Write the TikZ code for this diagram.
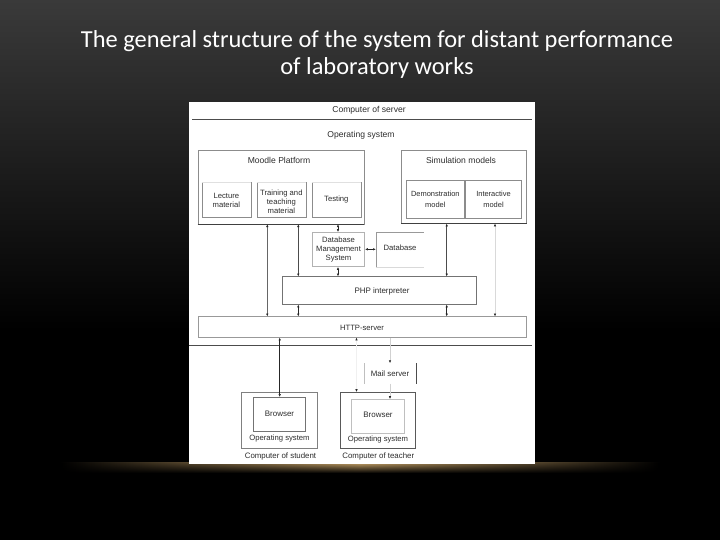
\documentclass[tikz,border=0pt]{standalone}
\usepackage{fontspec}
\setmainfont{Carlito}
\newfontfamily\arialf{Liberation Sans}
\usetikzlibrary{arrows.meta,fadings,fit}
\definecolor{bgtop}{RGB}{58,58,58}
\definecolor{goldband}{RGB}{205,168,108}
\definecolor{txt}{RGB}{45,45,45}
\tikzset{
  lbl/.style={font=\arialf\fontsize{7.7}{9}\selectfont, text=txt, align=center, inner sep=0pt},
  hdr/.style={font=\arialf\fontsize{8.6}{10}\selectfont, text=txt, inner sep=0pt},
  frame/.style={draw=#1, line width=0.6bp, inner sep=0pt},
  frame/.default={black!45},
  area/.style={inner sep=0pt},
  side/.style={draw=#1, line width=0.6bp},
  side/.default={black!45},
  tipd/.tip={Latex[length=2.8bp,width=2.4bp,color=black!85]},
  biarr/.style={line width=0.5bp, draw=#1, tipd-tipd},
  biarr/.default={black!85},
  onearr/.style={line width=0.5bp, draw=#1, -tipd},
  onearr/.default={black!85},
}
\begin{document}
\begin{tikzpicture}[x=1bp,y=-1bp]
\useasboundingbox (0,0) rectangle (720,540);
% background
\shade[top color=bgtop, bottom color=black] (0,0) rectangle (720,330);
\fill[black] (0,329.5) rectangle (720,540);
\shade[left color=black, right color=black, middle color=goldband, path fading=south] (60,462) rectangle (660,473);
% title
\node[font=\fontsize{24.5}{27}\selectfont, text=white, align=center, inner sep=0pt] (title) at (377,54.5)
  {The general structure of the system for distant performance\\of laboratory works};
% figure
\node[fill=white, inner sep=0pt, fit={(189,102.5) (535,464)}] (fig) {};
\node[hdr] (srvlbl) at (369,110.5) {Computer of server};
\coordinate (sl1) at (192,119); \coordinate (sl2) at (532,119);
\draw[black!70, line width=0.6bp] (sl1) -- (sl2);
\node[hdr] (oslbl) at (361,135) {Operating system};
% Moodle
\node[frame, fit={(198,150.7) (364,224)}] (moodle) {};
\draw[black!75, line width=0.6bp] (moodle.south west) -- (moodle.south east);
\node[hdr] at (279,160.7) {Moodle Platform};
\node[area, fit={(202,182.7) (250.7,217)}] (lect) {};
\node[area, fit={(257,182.7) (305.7,217)}] (train) {};
\node[area, fit={(312,182.7) (360.7,217)}] (test) {};
\foreach \b in {lect,train,test}{
  \draw[side] (\b.north west) -- (\b.south west) -- (\b.south east) -- (\b.north east);
  \draw[black!12, line width=0.5bp] (\b.north west) -- (\b.north east);
}
\node[lbl] at ([yshift=-0.5]lect.center) {Lecture\\material};
\node[lbl] at ([yshift=-1.5]train.center) {Training and\\teaching\\material};
\node[lbl] at (test.center) {Testing};
% Simulation
\node[frame, fit={(401.7,150.7) (526.7,223.3)}] (sim) {};
\draw[black!75, line width=0.6bp] (sim.south west) -- (sim.south east);
\node[hdr] at (461,160.7) {Simulation models};
\node[frame, fit={(406.7,180.3) (464,218.3)}] (demo) {};
\node[frame, fit={(465.3,180.3) (521.7,218.3)}] (inter) {};
\node[lbl, font=\arialf\fontsize{7.5}{11}\selectfont] at (demo.center) {Demonstration\\model};
\node[lbl, font=\arialf\fontsize{7.5}{11}\selectfont] at (inter.center) {Interactive\\model};
% DBMS, DB
\node[frame=black!30, fit={(312.3,232.3) (364.7,266.7)}] (dbms) {};
\node[lbl, font=\arialf\fontsize{7.7}{8.7}\selectfont] at (dbms.center) {Database\\Management\\System};
\node[area, fit={(376,232.3) (423.3,266.7)}] (db) {};
\draw[side=black!40] (db.north east) -- (db.north west) -- (db.south west);
\draw[side=black!15] (db.south west) -- (db.south east);
\node[lbl] at (400,247.3) {Database};
% PHP
\node[frame=black!55, fit={(282.3,276.7) (476.7,304.3)}] (php) {};
\node[lbl, font=\arialf\fontsize{8}{9}\selectfont] at (382,291) {PHP interpreter};
% HTTP
\node[frame=black!40, fit={(198,316.7) (526.7,337.3)}] (http) {};
\node[lbl] at (362,327.5) {HTTP-server};
\coordinate (hl1) at (189,345); \coordinate (hl2) at (532,345);
\draw[black!70, line width=0.6bp] (hl1) -- (hl2);
% Mail
\node[area, fit={(364.3,363.3) (415.7,383.3)}] (mail) {};
\draw[side=black!25] (mail.north west) -- (mail.south west);
\draw[side=black!70] (mail.north east) -- (mail.south east);
\node[lbl, font=\arialf\fontsize{7.9}{9}\selectfont] at (mail.center) {Mail server};
% client computers
\node[frame=black!50, fit={(241.7,392.3) (317.3,448.3)}] (stud) {};
\node[frame=black!55, fit={(253.3,397.3) (305.7,431)}] (sbrow) {};
\node[lbl, font=\arialf\fontsize{8}{9}\selectfont] at ([yshift=0.5]sbrow.center) {Browser};
\node[lbl] at (279.5,439) {Operating system};
\node[lbl, font=\arialf\fontsize{7.9}{9}\selectfont] at (280.5,456.7) {Computer of student};
\node[frame=black!65, fit={(340.7,392.3) (415.7,448.3)}] (teach) {};
\node[frame=black!25, fit={(351.7,399.3) (404,433.3)}] (tbrow) {};
\node[lbl, font=\arialf\fontsize{8}{9}\selectfont] at (378,415) {Browser};
\node[lbl] at (378,439.3) {Operating system};
\node[lbl, font=\arialf\fontsize{7.9}{9}\selectfont] at (378.3,456.7) {Computer of teacher};
% connector columns
\coordinate (cA) at (267.3,0);
\coordinate (cB) at (298.3,0);
\coordinate (cC) at (338,0);
\coordinate (cD) at (446.7,0);
\coordinate (cE) at (495,0);
\coordinate (cF) at (279.7,0);
\coordinate (cG) at (356.5,0);
\coordinate (cH) at (390,0);
\coordinate (rA) at (0,249.3);
% connectors
\draw[biarr=black!60] (moodle.south -| cA) -- (http.north -| cA);
\draw[biarr=black!70] (moodle.south -| cB) -- (php.north -| cB);
\draw[biarr] (php.south -| cB) -- (http.north -| cB);
\draw[biarr] (moodle.south -| cC) -- (dbms.north -| cC);
\draw[biarr] (dbms.south -| cC) -- (php.north -| cC);
\draw[biarr] (dbms.east |- rA) -- (db.west |- rA);
\draw[biarr=black!70] (sim.south -| cD) -- (php.north -| cD);
\draw[biarr] (php.south -| cD) -- (http.north -| cD);
\draw[biarr=black!15] (sim.south -| cE) -- (http.north -| cE);
\draw[biarr=black!85] (http.south -| cF) -- (sbrow.north -| cF);
\draw[biarr=black!6] (http.south -| cG) -- (teach.north -| cG);
\draw[onearr=black!18] (http.south -| cH) -- (mail.north -| cH);
\draw[onearr=black!18] (mail.south -| cH) -- (tbrow.north -| cH);
\end{tikzpicture}
\end{document}
